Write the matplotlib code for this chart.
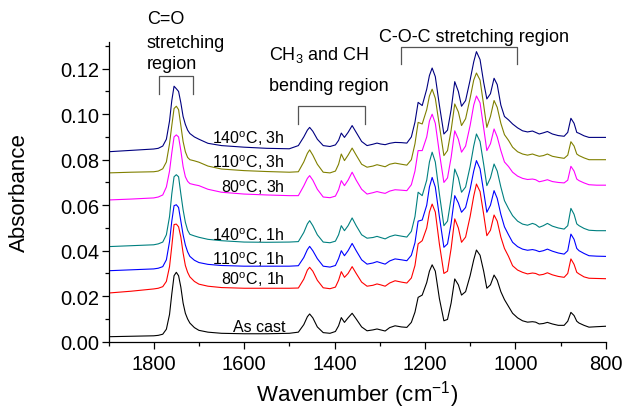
import matplotlib
matplotlib.use("Agg")
import matplotlib.pyplot as plt
from matplotlib.ticker import MultipleLocator, FormatStrFormatter


# wavenumber grid (cm-1) in four stretches
WAVENUMBER = [
    1900, 1850, 1800, 1790, 1780, 1772, 1765, 1760, 1755, 1750, 1745, 1740,
    1735, 1730, 1725, 1720, 1710, 1700, 1680, 1650, 1600, 1550, 1500,
    1480, 1468, 1460, 1455, 1448, 1438, 1425, 1410, 1398, 1391, 1385, 1378,
    1370, 1361, 1352, 1340, 1328, 1315, 1306, 1298, 1288, 1278, 1266, 1252, 1240,
    1230, 1222, 1215, 1206, 1196, 1190, 1184, 1177, 1168, 1158, 1150, 1142,
    1134, 1126, 1119, 1110, 1100, 1092, 1086, 1078, 1070, 1063, 1055, 1047,
    1040, 1032, 1024,
    1015, 1006, 995, 984, 973, 962, 955, 947, 938, 929, 918, 905, 892, 884,
    877, 870, 864, 859, 848, 837, 820, 800,
]

as_cast = [
    0.0022, 0.0024, 0.0026, 0.0028, 0.0033, 0.0055, 0.0120, 0.0210, 0.0290, 0.0305, 0.0290, 0.0240,
    0.0170, 0.0125, 0.0100, 0.0082, 0.0062, 0.0050, 0.0042, 0.0037, 0.0035, 0.0035, 0.0037,
    0.0042, 0.0075, 0.0110, 0.0122, 0.0105, 0.0065, 0.0040, 0.0037, 0.0045, 0.0070, 0.0106, 0.0085,
    0.0105, 0.0125, 0.0100, 0.0065, 0.0048, 0.0052, 0.0056, 0.0052, 0.0047, 0.0062, 0.0070, 0.0065, 0.0063,
    0.0085, 0.0130, 0.0195, 0.0205, 0.0260, 0.0310, 0.0338, 0.0310, 0.0190, 0.0092, 0.0098, 0.0170,
    0.0276, 0.0250, 0.0205, 0.0220, 0.0290, 0.0360, 0.0403, 0.0380, 0.0310, 0.0235, 0.0250, 0.0293,
    0.0270, 0.0220, 0.0185,
    0.0155, 0.0125, 0.0105, 0.0092, 0.0086, 0.0088, 0.0086, 0.0078, 0.0080, 0.0085, 0.0078, 0.0072, 0.0072, 0.0090,
    0.0129, 0.0115, 0.0090, 0.0082, 0.0072, 0.0064, 0.0066, 0.0068,
]

c80_1h = [
    0.0214, 0.0222, 0.0232, 0.0235, 0.0242, 0.0265, 0.0330, 0.0420, 0.0515, 0.0517, 0.0505, 0.0460,
    0.0390, 0.0335, 0.0305, 0.0285, 0.0265, 0.0253, 0.0244, 0.0238, 0.0235, 0.0235, 0.0235,
    0.0236, 0.0275, 0.0315, 0.0327, 0.0310, 0.0270, 0.0237, 0.0233, 0.0240, 0.0270, 0.0308, 0.0283,
    0.0300, 0.0330, 0.0300, 0.0262, 0.0244, 0.0248, 0.0254, 0.0250, 0.0244, 0.0258, 0.0268, 0.0262, 0.0258,
    0.0280, 0.0335, 0.0430, 0.0444, 0.0500, 0.0570, 0.0605, 0.0570, 0.0430, 0.0300, 0.0310, 0.0410,
    0.0540, 0.0500, 0.0437, 0.0460, 0.0550, 0.0640, 0.0693, 0.0660, 0.0560, 0.0466, 0.0490, 0.0557,
    0.0530, 0.0460, 0.0410,
    0.0375, 0.0334, 0.0315, 0.0305, 0.0298, 0.0302, 0.0300, 0.0293, 0.0296, 0.0303, 0.0294, 0.0287, 0.0283, 0.0300,
    0.0364, 0.0340, 0.0305, 0.0298, 0.0285, 0.0279, 0.0278, 0.0277,
]

c110_1h = [
    0.0312, 0.0316, 0.0320, 0.0323, 0.0330, 0.0360, 0.0440, 0.0530, 0.0598, 0.0602, 0.0590, 0.0530,
    0.0470, 0.0425, 0.0395, 0.0375, 0.0358, 0.0348, 0.0340, 0.0335, 0.0332, 0.0332, 0.0332,
    0.0334, 0.0370, 0.0405, 0.0419, 0.0400, 0.0365, 0.0332, 0.0328, 0.0335, 0.0365, 0.0400, 0.0378,
    0.0400, 0.0432, 0.0400, 0.0360, 0.0341, 0.0346, 0.0352, 0.0347, 0.0341, 0.0355, 0.0364, 0.0360, 0.0356,
    0.0380, 0.0435, 0.0530, 0.0535, 0.0600, 0.0680, 0.0722, 0.0680, 0.0550, 0.0415, 0.0430, 0.0520,
    0.0642, 0.0610, 0.0569, 0.0590, 0.0670, 0.0750, 0.0796, 0.0760, 0.0660, 0.0569, 0.0600, 0.0664,
    0.0630, 0.0560, 0.0505,
    0.0470, 0.0437, 0.0418, 0.0407, 0.0402, 0.0405, 0.0402, 0.0396, 0.0400, 0.0407, 0.0398, 0.0390, 0.0385, 0.0400,
    0.0473, 0.0450, 0.0410, 0.0400, 0.0388, 0.0378, 0.0376, 0.0375,
]

c140_1h = [
    0.0418, 0.0422, 0.0426, 0.0430, 0.0438, 0.0470, 0.0550, 0.0650, 0.0725, 0.0734, 0.0725, 0.0650,
    0.0580, 0.0525, 0.0490, 0.0472, 0.0465, 0.0459, 0.0450, 0.0444, 0.0438, 0.0437, 0.0438,
    0.0440, 0.0480, 0.0518, 0.0532, 0.0510, 0.0470, 0.0438, 0.0435, 0.0442, 0.0470, 0.0510, 0.0488,
    0.0510, 0.0544, 0.0510, 0.0470, 0.0455, 0.0458, 0.0463, 0.0458, 0.0452, 0.0462, 0.0469, 0.0464, 0.0460,
    0.0485, 0.0550, 0.0657, 0.0642, 0.0710, 0.0790, 0.0833, 0.0790, 0.0650, 0.0510, 0.0530, 0.0630,
    0.0759, 0.0720, 0.0657, 0.0680, 0.0770, 0.0860, 0.0913, 0.0880, 0.0780, 0.0686, 0.0720, 0.0781,
    0.0750, 0.0680, 0.0620,
    0.0585, 0.0554, 0.0530, 0.0517, 0.0512, 0.0520, 0.0515, 0.0503, 0.0510, 0.0520, 0.0508, 0.0500, 0.0495, 0.0510,
    0.0586, 0.0560, 0.0518, 0.0510, 0.0498, 0.0490, 0.0488, 0.0488,
]

c80_3h = [
    0.0623, 0.0627, 0.0632, 0.0636, 0.0645, 0.0680, 0.0750, 0.0830, 0.0900, 0.0909, 0.0900, 0.0840,
    0.0770, 0.0725, 0.0705, 0.0695, 0.0690, 0.0686, 0.0670, 0.0657, 0.0649, 0.0645, 0.0642,
    0.0642, 0.0685, 0.0718, 0.0730, 0.0710, 0.0670, 0.0636, 0.0633, 0.0640, 0.0668, 0.0708, 0.0686,
    0.0710, 0.0745, 0.0710, 0.0670, 0.0649, 0.0655, 0.0660, 0.0656, 0.0652, 0.0662, 0.0668, 0.0666, 0.0664,
    0.0690, 0.0750, 0.0840, 0.0840, 0.0900, 0.0970, 0.1000, 0.0960, 0.0830, 0.0700, 0.0720, 0.0810,
    0.0927, 0.0890, 0.0833, 0.0860, 0.0950, 0.1040, 0.1080, 0.1050, 0.0940, 0.0840, 0.0870, 0.0935,
    0.0900, 0.0840, 0.0790,
    0.0770, 0.0745, 0.0728, 0.0718, 0.0713, 0.0715, 0.0712, 0.0703, 0.0707, 0.0712, 0.0704, 0.0700, 0.0698, 0.0710,
    0.0771, 0.0750, 0.0715, 0.0708, 0.0698, 0.0690, 0.0688, 0.0688,
]

c110_3h = [
    0.0742, 0.0745, 0.0747, 0.0750, 0.0760, 0.0790, 0.0870, 0.0950, 0.1025, 0.1035, 0.1020, 0.0950,
    0.0880, 0.0835, 0.0810, 0.0800, 0.0795, 0.0789, 0.0772, 0.0759, 0.0752, 0.0748, 0.0745,
    0.0747, 0.0790, 0.0828, 0.0843, 0.0820, 0.0780, 0.0745, 0.0742, 0.0750, 0.0780, 0.0825, 0.0796,
    0.0820, 0.0851, 0.0820, 0.0780, 0.0767, 0.0772, 0.0778, 0.0774, 0.0769, 0.0780, 0.0785, 0.0780, 0.0776,
    0.0800, 0.0870, 0.0964, 0.0957, 0.1020, 0.1080, 0.1110, 0.1070, 0.0950, 0.0818, 0.0840, 0.0930,
    0.1045, 0.1010, 0.0950, 0.0980, 0.1070, 0.1150, 0.1181, 0.1150, 0.1040, 0.0942, 0.0990, 0.1060,
    0.1030, 0.0960, 0.0910,
    0.0885, 0.0855, 0.0835, 0.0825, 0.0820, 0.0825, 0.0820, 0.0815, 0.0818, 0.0825, 0.0815, 0.0810, 0.0806, 0.0820,
    0.0879, 0.0860, 0.0825, 0.0818, 0.0808, 0.0800, 0.0800, 0.0800,
]

c140_3h = [
    0.0835, 0.0841, 0.0847, 0.0850, 0.0860, 0.0890, 0.0970, 0.1060, 0.1123, 0.1112, 0.1100, 0.1050,
    0.0990, 0.0955, 0.0930, 0.0915, 0.0900, 0.0890, 0.0872, 0.0862, 0.0855, 0.0850, 0.0848,
    0.0862, 0.0900, 0.0930, 0.0942, 0.0925, 0.0890, 0.0862, 0.0858, 0.0865, 0.0885, 0.0917, 0.0898,
    0.0920, 0.0950, 0.0920, 0.0880, 0.0862, 0.0868, 0.0873, 0.0869, 0.0866, 0.0872, 0.0876, 0.0875, 0.0873,
    0.0900, 0.0965, 0.1052, 0.1038, 0.1110, 0.1170, 0.1203, 0.1165, 0.1040, 0.0913, 0.0930, 0.1020,
    0.1143, 0.1100, 0.1035, 0.1060, 0.1150, 0.1230, 0.1275, 0.1240, 0.1140, 0.1067, 0.1090, 0.1158,
    0.1130, 0.1040, 0.0990,
    0.0975, 0.0957, 0.0940, 0.0927, 0.0922, 0.0926, 0.0920, 0.0913, 0.0918, 0.0924, 0.0913, 0.0906, 0.0903, 0.0920,
    0.0982, 0.0960, 0.0920, 0.0916, 0.0905, 0.0898, 0.0898, 0.0898,
]

SPECTRA = [as_cast, c80_1h, c110_1h, c140_1h, c80_3h, c110_3h, c140_3h]
LABELS = [
    "As cast",
    "80$^{\\mathregular{o}}$C, 1h",
    "110$^{\\mathregular{o}}$C, 1h",
    "140$^{\\mathregular{o}}$C, 1h",
    "80$^{\\mathregular{o}}$C, 3h",
    "110$^{\\mathregular{o}}$C, 3h",
    "140$^{\\mathregular{o}}$C, 3h",
]
COLORS = ["#000000", "#ff0000", "#0000ff", "#008080", "#ff00ff", "#808000", "#000080"]

Y_TICKS = [0.00, 0.02, 0.04, 0.06, 0.08, 0.10, 0.12]
X_TICKS = [1800, 1600, 1400, 1200, 1000, 800]


def bracket(ax, x0, x1, top, bottom):
    ax.plot([x0, x0, x1, x1], [bottom, top, top, bottom],
            color="#555555", lw=0.9, clip_on=False)


def draw(ax):
    for values, color in zip(SPECTRA, COLORS):
        ax.plot(WAVENUMBER, values, color=color, lw=0.8)

    # curve labels, right aligned, baselines in data units
    label_y = [0.0048, 0.0254, 0.0342, 0.0448, 0.0657, 0.0767, 0.0873]
    for text, y in zip(LABELS, label_y):
        ax.text(1509, y, text, ha="right", va="baseline", fontsize=11.5)

    ax.text(1815, 0.1401, "C=O", fontsize=13, va="baseline")
    ax.text(1815, 0.1297, "stretching", fontsize=13, va="baseline")
    ax.text(1815, 0.1203, "region", fontsize=13, va="baseline")
    bracket(ax, 1789, 1714, 0.1168, 0.1089)

    ax.text(1545, 0.1243, "CH$_{\\mathregular{3}}$ and CH", fontsize=13, va="baseline")
    ax.text(1545, 0.1108, "bending region", fontsize=13, va="baseline")
    bracket(ax, 1481, 1332, 0.1036, 0.0959)

    ax.text(1301, 0.1323, "C-O-C stretching region", fontsize=13, va="baseline")
    bracket(ax, 1253, 997, 0.1297, 0.1221)


if __name__ == "__main__":
    plt.rcParams["font.family"] = ["Liberation Sans", "DejaVu Sans"]
    plt.rcParams["mathtext.fontset"] = "custom"
    plt.rcParams["mathtext.rm"] = "Liberation Sans"
    plt.rcParams["mathtext.it"] = "Liberation Sans:italic"

    fig = plt.figure(figsize=(6.28, 4.10), dpi=100)
    ax = fig.add_axes([0.1728, 0.1641, 0.7917, 0.7303])

    draw(ax)

    ax.set_xlim(1900, 800)
    ax.set_ylim(0, 0.1316)
    ax.set_xticks(X_TICKS)
    ax.set_yticks(Y_TICKS)
    ax.xaxis.set_minor_locator(MultipleLocator(100))
    ax.yaxis.set_minor_locator(MultipleLocator(0.01))
    ax.yaxis.set_major_formatter(FormatStrFormatter("%.2f"))

    for side in ["top", "right"]:
        ax.spines[side].set_visible(False)
    for side in ["left", "bottom"]:
        ax.spines[side].set_linewidth(0.9)

    ax.tick_params(which="major", direction="out", length=4.8, width=0.9, labelsize=14.5)
    ax.tick_params(which="minor", direction="out", length=2.6, width=0.9)
    ax.tick_params(axis="x", pad=4)
    ax.tick_params(axis="y", pad=2)

    ax.set_xlabel("Wavenumber (cm$^{\\mathregular{-1}}$)", fontsize=16)
    ax.set_ylabel("Absorbance", fontsize=16)
    ax.xaxis.set_label_coords(0.5, -0.12)
    ax.yaxis.set_label_coords(-0.158, 0.5)

    fig.savefig("out.png", dpi=100)
